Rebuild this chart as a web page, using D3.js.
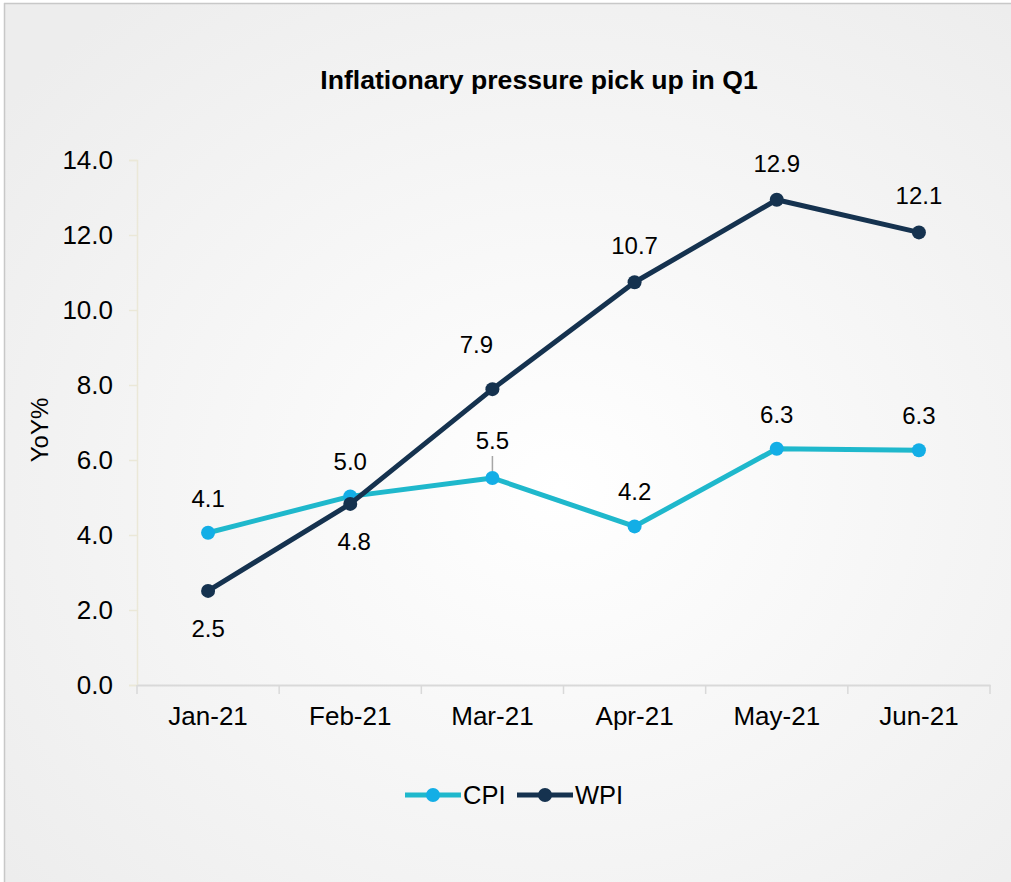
<!DOCTYPE html>
<html>
<head>
<meta charset="utf-8">
<script src="https://cdn.jsdelivr.net/npm/d3@7"></script>
<style>
  html, body { margin: 0; padding: 0; background: #fff; }
  svg { display: block; font-family: "Liberation Sans", Arial, sans-serif; }
</style>
</head>
<body>
<svg id="chart" width="1011" height="882"></svg>
<script>
var months   = ["Jan-21", "Feb-21", "Mar-21", "Apr-21", "May-21", "Jun-21"];
var cpiData  = [4.06, 5.03, 5.52, 4.23, 6.30, 6.26];
var wpiData  = [2.51, 4.83, 7.89, 10.74, 12.94, 12.07];
var yTicks   = [0, 2, 4, 6, 8, 10, 12, 14];
var wpiLabelPos = ["below", "below", "above", "above", "above", "above"];

var svg = d3.select("#chart");
var W = 1011, H = 882;

// background with soft radial gradient
var defs = svg.append("defs");
var grad = defs.append("radialGradient").attr("id", "bg")
  .attr("cx", "0.55").attr("cy", "0.55").attr("r", "0.7");
grad.append("stop").attr("offset", "0").attr("stop-color", "#ffffff");
grad.append("stop").attr("offset", "1").attr("stop-color", "#ededed");

svg.append("rect").attr("x", 4).attr("y", 3).attr("width", W).attr("height", H)
  .attr("fill", "url(#bg)");
svg.append("line").attr("x1", 4).attr("x2", W).attr("y1", 3.5).attr("y2", 3.5)
  .attr("stroke", "#c8c8c8").attr("stroke-width", 1.5);
svg.append("line").attr("x1", 4.5).attr("x2", 4.5).attr("y1", 3).attr("y2", H)
  .attr("stroke", "#c8c8c8").attr("stroke-width", 1.5);

var plotL = 137, plotR = 990, plotT = 160, plotB = 685;

var x = d3.scaleBand().domain(months).range([plotL, plotR]).padding(0);
var y = d3.scaleLinear().domain([0, 14]).range([plotB, plotT]);
var cx = function(i) { return x(months[i]) + x.bandwidth() / 2; };

// title
svg.append("text").attr("x", 539).attr("y", 89)
  .attr("text-anchor", "middle").attr("font-weight", "bold")
  .attr("font-size", 26.6).attr("fill", "#000")
  .text("Inflationary pressure pick up in Q1");

// y axis
var yAxis = d3.axisLeft(y).tickValues(yTicks).tickSize(8).tickPadding(16)
  .tickFormat(d3.format(".1f"));
var gy = svg.append("g").attr("transform", "translate(" + plotL + ",0)").call(yAxis);
gy.select(".domain").attr("stroke", "#ebe8d8").attr("stroke-width", 1.5);
gy.selectAll(".tick line").attr("stroke", "#ebe8d8").attr("stroke-width", 1.5);
gy.selectAll(".tick text").attr("font-size", 26).attr("fill", "#000")
  .attr("font-family", "Liberation Sans, Arial, sans-serif");

// x axis
var xAxis = d3.axisBottom(x).tickSize(0).tickPadding(22);
var gx = svg.append("g").attr("transform", "translate(0," + plotB + ")").call(xAxis);
gx.select(".domain").attr("stroke", "#d9d9d9").attr("stroke-width", 2);
gx.selectAll(".tick text").attr("font-size", 26).attr("fill", "#000")
  .attr("font-family", "Liberation Sans, Arial, sans-serif");
// band boundary ticks
var bounds = months.map(function(m) { return x(m); }).concat([plotR]);
gx.selectAll(".bound").data(bounds).enter().append("line")
  .attr("x1", function(d) { return d; }).attr("x2", function(d) { return d; })
  .attr("y1", 0).attr("y2", 9)
  .attr("stroke", "#d9d9d9").attr("stroke-width", 1.5);

// y axis title
svg.append("text").attr("transform", "translate(48,430) rotate(-90)")
  .attr("text-anchor", "middle").attr("font-size", 24).attr("fill", "#000")
  .text("YoY%");

var cpiLine = "#1fb8cc", cpiMark = "#13aee6";
var wpiLine = "#15324f", wpiMark = "#15324f";

var line = d3.line().x(function(d, i) { return cx(i); }).y(function(d) { return y(d); });

function drawSeries(data, lc, mc) {
  svg.append("path").attr("d", line(data))
    .attr("fill", "none").attr("stroke", lc).attr("stroke-width", 5)
    .attr("stroke-linejoin", "round");
  svg.append("g").selectAll("circle").data(data).enter().append("circle")
    .attr("cx", function(d, i) { return cx(i); })
    .attr("cy", function(d) { return y(d); })
    .attr("r", 7).attr("fill", mc);
}

drawSeries(cpiData, cpiLine, cpiMark);
drawSeries(wpiData, wpiLine, wpiMark);

// leader line for Mar CPI label
svg.append("line").attr("x1", cx(2)).attr("x2", cx(2))
  .attr("y1", y(cpiData[2]) - 22).attr("y2", y(cpiData[2]) - 7)
  .attr("stroke", "#a6a6a6").attr("stroke-width", 1.5);

// data labels
svg.append("g").selectAll("text").data(cpiData).enter().append("text")
  .attr("x", function(d, i) { return cx(i); })
  .attr("y", function(d, i) { return y(d) - (i === 2 ? 29 : 26); })
  .attr("text-anchor", "middle").attr("font-size", 24).attr("fill", "#000")
  .text(function(d) { return d3.format(".1f")(d); });

svg.append("g").selectAll("text").data(wpiData).enter().append("text")
  .attr("x", function(d, i) { return cx(i) + (i === 2 ? -16 : (i === 1 ? 4 : 0)); })
  .attr("y", function(d, i) {
    if (wpiLabelPos[i] === "below") return y(d) + 46;
    return i === 2 ? y(d) - 36 : y(d) - 28;
  })
  .attr("text-anchor", "middle").attr("font-size", 24).attr("fill", "#000")
  .text(function(d) { return d3.format(".1f")(d); });

// legend
var legend = [
  { name: "CPI", lc: cpiLine, mc: cpiMark, x: 405 },
  { name: "WPI", lc: wpiLine, mc: wpiMark, x: 517 }
];
var lg = svg.append("g").selectAll("g").data(legend).enter().append("g")
  .attr("transform", function(d) { return "translate(" + d.x + ",795)"; });
lg.append("line").attr("x1", 0).attr("x2", 56).attr("y1", 0).attr("y2", 0)
  .attr("stroke", function(d) { return d.lc; }).attr("stroke-width", 5);
lg.append("circle").attr("cx", 28).attr("cy", 0).attr("r", 7)
  .attr("fill", function(d) { return d.mc; });
lg.append("text").attr("x", 58).attr("y", 9).attr("font-size", 25.5).attr("fill", "#000")
  .text(function(d) { return d.name; });
</script>
</body>
</html>
